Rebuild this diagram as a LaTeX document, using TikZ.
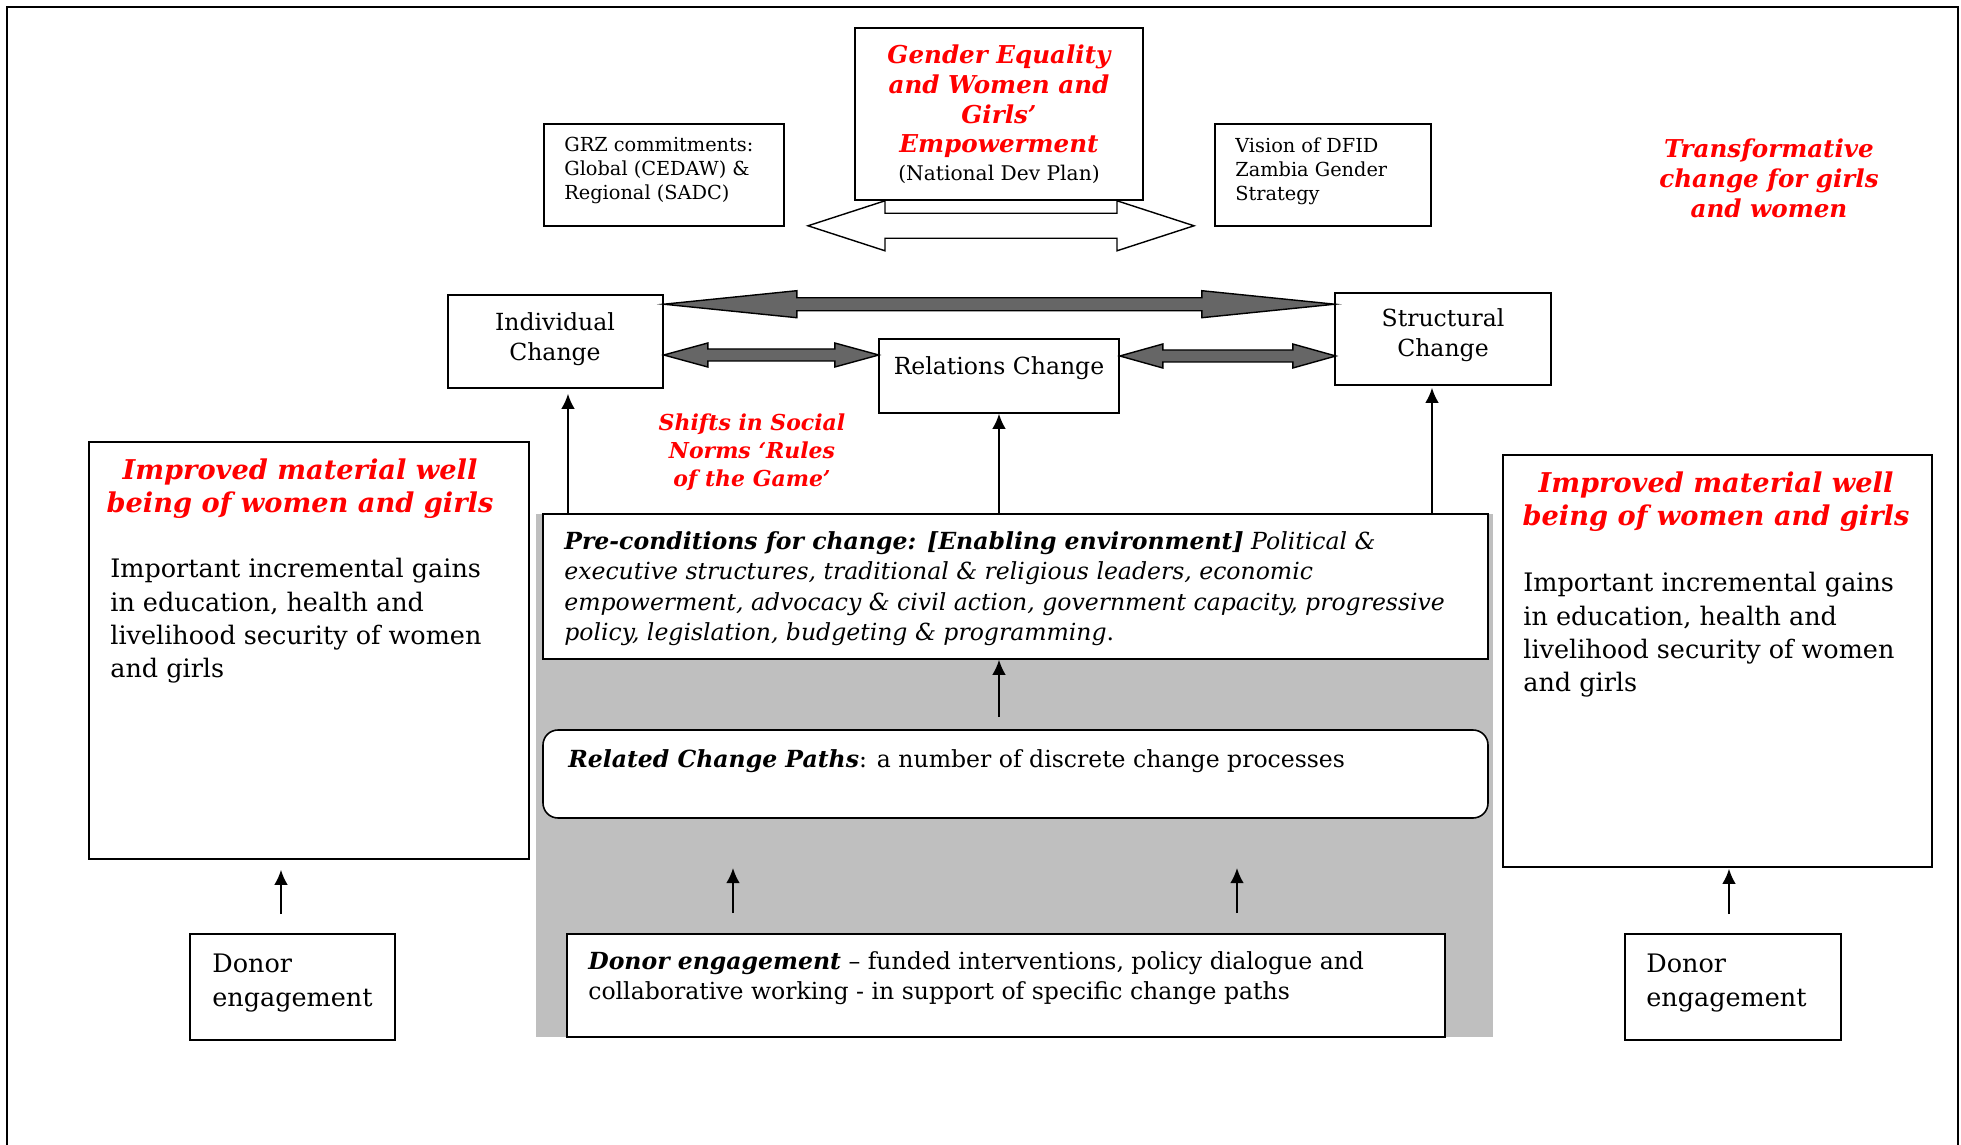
\documentclass[tikz,border=0pt]{standalone}
\usepackage{fontspec}
\setmainfont{DejaVu Serif}
\usetikzlibrary{arrows.meta, fit, backgrounds}

\begin{document}
\begin{tikzpicture}[
  x=0.02cm, y=-0.02cm,
  box/.style={draw, line width=0.9pt, fill=white, inner sep=0pt},
  txt/.style={inner sep=0pt},
  up/.style={-{Latex[length=0.3cm, width=0.27cm]}, line width=1pt},
  fat/.style={draw=black, fill=black!60, line width=0.8pt},
  hollow/.style={draw=black, fill=white, line width=0.8pt},
  fsmall/.style={font=\fontsize{11}{13.7}\selectfont},
  fmid/.style={font=\fontsize{13.4}{17.3}\selectfont},
  flarge/.style={font=\fontsize{14.5}{19}\selectfont},
  redhead/.style={text=red, font=\fontsize{15.5}{19.3}\selectfont\bfseries\itshape},
  redside/.style={text=red, font=\fontsize{14}{17.3}\selectfont\bfseries\itshape},
]

\useasboundingbox (0,0) rectangle (1961,1145);

% ================================================================
% Frame and grey panel
% ================================================================
\draw[line width=1.2pt] (7,1145) -- (7,7) -- (1958,7) -- (1958,1145);
\fill[black!25] (536,514) rectangle (1493,1037);

% ================================================================
% Top row: commitments, goal, vision
% ================================================================
\node[box, fit={(544,124) (784,226)}] (grz) {};
\node[txt, fsmall, align=left, anchor=north west] (grztext) at (564,137)
  {GRZ commitments:\\Global (CEDAW) \&\\Regional (SADC)};

\node[box, fit={(855,28) (1143,200)}] (gender) {};
\node[txt, align=center, font=\fontsize{14}{17}\selectfont] (gendertext) at (999,114)
  {\textcolor{red}{\bfseries\itshape Gender Equality}\\
   \textcolor{red}{\bfseries\itshape and Women and}\\
   \textcolor{red}{\bfseries\itshape Girls’}\\
   \textcolor{red}{\bfseries\itshape Empowerment}\\[-1.5pt]
   {\fontsize{11.5}{17}\selectfont (National Dev Plan)}};

\node[box, fit={(1215,124) (1431,226)}] (dfid) {};
\node[txt, fsmall, align=left, anchor=north west] (dfidtext) at (1235,137)
  {Vision of DFID\\Zambia Gender\\Strategy};

\node[txt, redside, align=center, anchor=north] (transf) at (1769,138)
  {Transformative\\change for girls\\and women};

% hollow double arrow under the goal box
\begin{scope}[on background layer]
  \draw[hollow] (gender.south) ++(-191,25) -- ++(77,-25) -- ++(0,12.5)
    -- ++(232,0) -- ++(0,-12.5) -- ++(77,25) -- ++(-77,25) -- ++(0,-12.5)
    -- ++(-232,0) -- ++(0,12.5) -- cycle;
\end{scope}

% ================================================================
% Change boxes
% ================================================================
\node[box, fit={(448,295) (663,388)}] (indiv) {};
\node[txt, fmid, align=center] (indivtext) at (555,339) {Individual\\Change};
\node[box, fit={(879,339) (1119,413)}] (rel) {};
\node[txt, fmid, anchor=base] (reltext) at (999,375) {Relations Change};
\node[box, fit={(1335,293) (1551,385)}] (struct) {};
\node[txt, fmid, align=center] (structtext) at (1443,335) {Structural\\Change};

% --- fat double arrows ---
\draw[fat] (indiv.north east) ++(0,10) -- ++(133,-13.5) -- ++(0,7)
  -- ++(405,0) -- ++(0,-7) -- ++(133,13.5) -- ++(-133,13.5) -- ++(0,-7)
  -- ++(-405,0) -- ++(0,7) -- cycle;
\draw[fat] (indiv.east) ++(0,13.5) -- ++(44,-12) -- ++(0,6)
  -- ++(127,0) -- ++(0,-6) -- ++(44,12) -- ++(-44,12) -- ++(0,-6)
  -- ++(-127,0) -- ++(0,6) -- cycle;
\draw[fat] (rel.east) ++(0,-20) -- ++(43,-12) -- ++(0,6)
  -- ++(130,0) -- ++(0,-6) -- ++(43,12) -- ++(-43,12) -- ++(0,-6)
  -- ++(-130,0) -- ++(0,6) -- cycle;

\node[txt, align=center, text=red,
      font=\fontsize{12.5}{16}\selectfont\bfseries\itshape,
      anchor=north] (shifts) at (752,413)
  {Shifts in Social\\Norms ‘Rules\\of the Game’};

% ================================================================
% Centre column
% ================================================================
\node[box, fit={(543,514) (1488,659)}] (precond) {};
\node[txt, fmid, align=left, anchor=north west] (pretext) at (564,531)
  {\textbf{\textit{Pre-conditions for change: [Enabling environment]}} \textit{Political \&}\\
   \textit{executive structures, traditional \& religious leaders, economic}\\
   \textit{empowerment, advocacy \& civil action, government capacity, progressive}\\
   \textit{policy, legislation, budgeting \& programming}.};

\node[box, rounded corners=0.3cm, fit={(543,730) (1488,818)}] (paths) {};
\node[txt, fmid, anchor=base west] (pathtext) at (568,767)
  {\textbf{\textit{Related Change Paths}}: a number of discrete change processes};

\node[box, fit={(567,934) (1445,1037)}] (donorM) {};
\node[txt, fmid, align=left, anchor=north west] (donorMtext) at (588,951)
  {\textbf{\textit{Donor engagement}} – funded interventions, policy dialogue and\\
   collaborative working - in support of specific change paths};

% ================================================================
% Side columns
% ================================================================
\node[box, fit={(89,442) (529,859)}] (wellL) {};
\node[txt, redhead, align=center, anchor=north] (wellLhead) at (300,458)
  {Improved material well\\being of women and girls};
\node[txt, flarge, align=left, anchor=north west] (wellLtext) at (110,558)
  {Important incremental gains\\in education, health and\\livelihood security of women\\and girls};

\node[box, fit={(1503,455) (1932,867)}] (wellR) {};
\node[txt, redhead, align=center, anchor=north] (wellRhead) at (1716,471)
  {Improved material well\\being of women and girls};
\node[txt, flarge, align=left, anchor=north west] (wellRtext) at (1523,572)
  {Important incremental gains\\in education, health and\\livelihood security of women\\and girls};

\node[box, fit={(190,934) (395,1040)}] (donorL) {};
\node[txt, flarge, align=left, anchor=north west] (donorLtext) at (212,954)
  {Donor\\engagement};
\node[box, fit={(1625,934) (1841,1040)}] (donorR) {};
\node[txt, flarge, align=left, anchor=north west] (donorRtext) at (1646,954)
  {Donor\\engagement};

% ================================================================
% Arrows
% ================================================================
\coordinate (a1) at (568,0);
\coordinate (a3) at (1432,0);
\coordinate (d1) at (733,868);
\coordinate (d2) at (1237,868);
\coordinate (e1) at (281,0);
\coordinate (e2) at (1729,0);

\draw[up, shorten >=0.1cm] (precond.north -| a1) -- (indiv.south -| a1);
\draw[up] (precond.north -| rel.south) -- (rel.south);
\draw[up, shorten >=0.04cm] (precond.north -| a3) -- (struct.south -| a3);
\draw[up, shorten <=0.24cm] (paths.north -| rel.south) -- (precond.south -| rel.south);
\draw[up, shorten <=0.4cm] (donorM.north -| d1) -- (d1);
\draw[up, shorten <=0.4cm] (donorM.north -| d2) -- (d2);
\draw[up, shorten <=0.38cm, shorten >=0.2cm] (donorL.north -| e1) -- (wellL.south -| e1);
\draw[up, shorten <=0.38cm, shorten >=0.02cm] (donorR.north -| e2) -- (wellR.south -| e2);

\end{tikzpicture}
\end{document}
